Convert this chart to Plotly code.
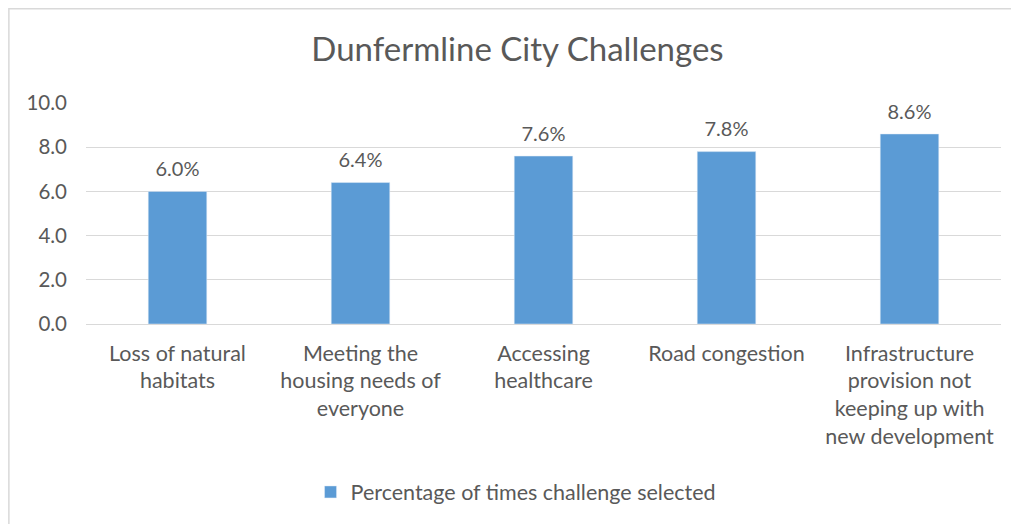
import plotly.graph_objects as go

categories = [
    "Loss of natural<br>habitats",
    "Meeting the<br>housing needs of<br>everyone",
    "Accessing<br>healthcare",
    "Road congestion",
    "Infrastructure<br>provision not<br>keeping up with<br>new development",
]
values = [6.0, 6.4, 7.6, 7.8, 8.6]
series_name = "Percentage of times challenge selected"
y_ticks = [0, 2, 4, 6, 8, 10]

FONT = "Lato, 'Open Sans', sans-serif"
GRAY = "#595959"

fig = go.Figure()
fig.add_trace(go.Bar(
    x=categories,
    y=values,
    name=series_name,
    marker=dict(color="#5B9BD5"),
    showlegend=True,
    hoverinfo="x+y",
))
# data labels, placed above each bar
fig.add_trace(go.Scatter(
    x=categories,
    y=values,
    mode="markers+text",
    marker=dict(size=15, opacity=0),
    text=[f"{v:.1f}%" for v in values],
    textposition="top center",
    textfont=dict(size=20, color=GRAY, family=FONT),
    cliponaxis=False,
    showlegend=False,
    hoverinfo="skip",
))

fig.update_layout(
    width=1019,
    height=524,
    paper_bgcolor="white",
    plot_bgcolor="white",
    margin=dict(l=78, r=26, t=95, b=208),
    bargap=0.68,
    font=dict(family=FONT, color=GRAY),
    title=dict(
        text="Dunfermline City Challenges",
        x=0.5, xanchor="center",
        y=0.92, yanchor="middle",
        font=dict(size=33, color=GRAY, family=FONT),
    ),
    xaxis=dict(
        showgrid=False,
        showline=False,
        ticks="",
        ticklabelstandoff=14,
        tickfont=dict(size=21.5, color=GRAY, family=FONT),
    ),
    yaxis=dict(
        range=[0, 10],
        tickvals=y_ticks,
        tickformat=".1f",
        showgrid=True,
        gridcolor="#D9D9D9",
        gridwidth=1.3,
        zeroline=True,
        zerolinecolor="#D9D9D9",
        zerolinewidth=1.3,
        showline=False,
        ticks="",
        ticklabelstandoff=18,
        tickfont=dict(size=20.5, color=GRAY, family=FONT),
    ),
    legend=dict(
        orientation="h",
        x=0.47, xanchor="center",
        y=-0.76, yanchor="middle",
        font=dict(size=21.5, color=GRAY, family=FONT),
        itemwidth=30,
    ),
    shapes=[dict(
        type="rect", xref="paper", yref="paper",
        x0=-0.0843, x1=1.2, y0=-1.2, y1=1.4265,
        line=dict(color="#D9D9D9", width=1.5),
        fillcolor="rgba(0,0,0,0)",
        layer="below",
    )],
)

fig.write_html("out.html")
